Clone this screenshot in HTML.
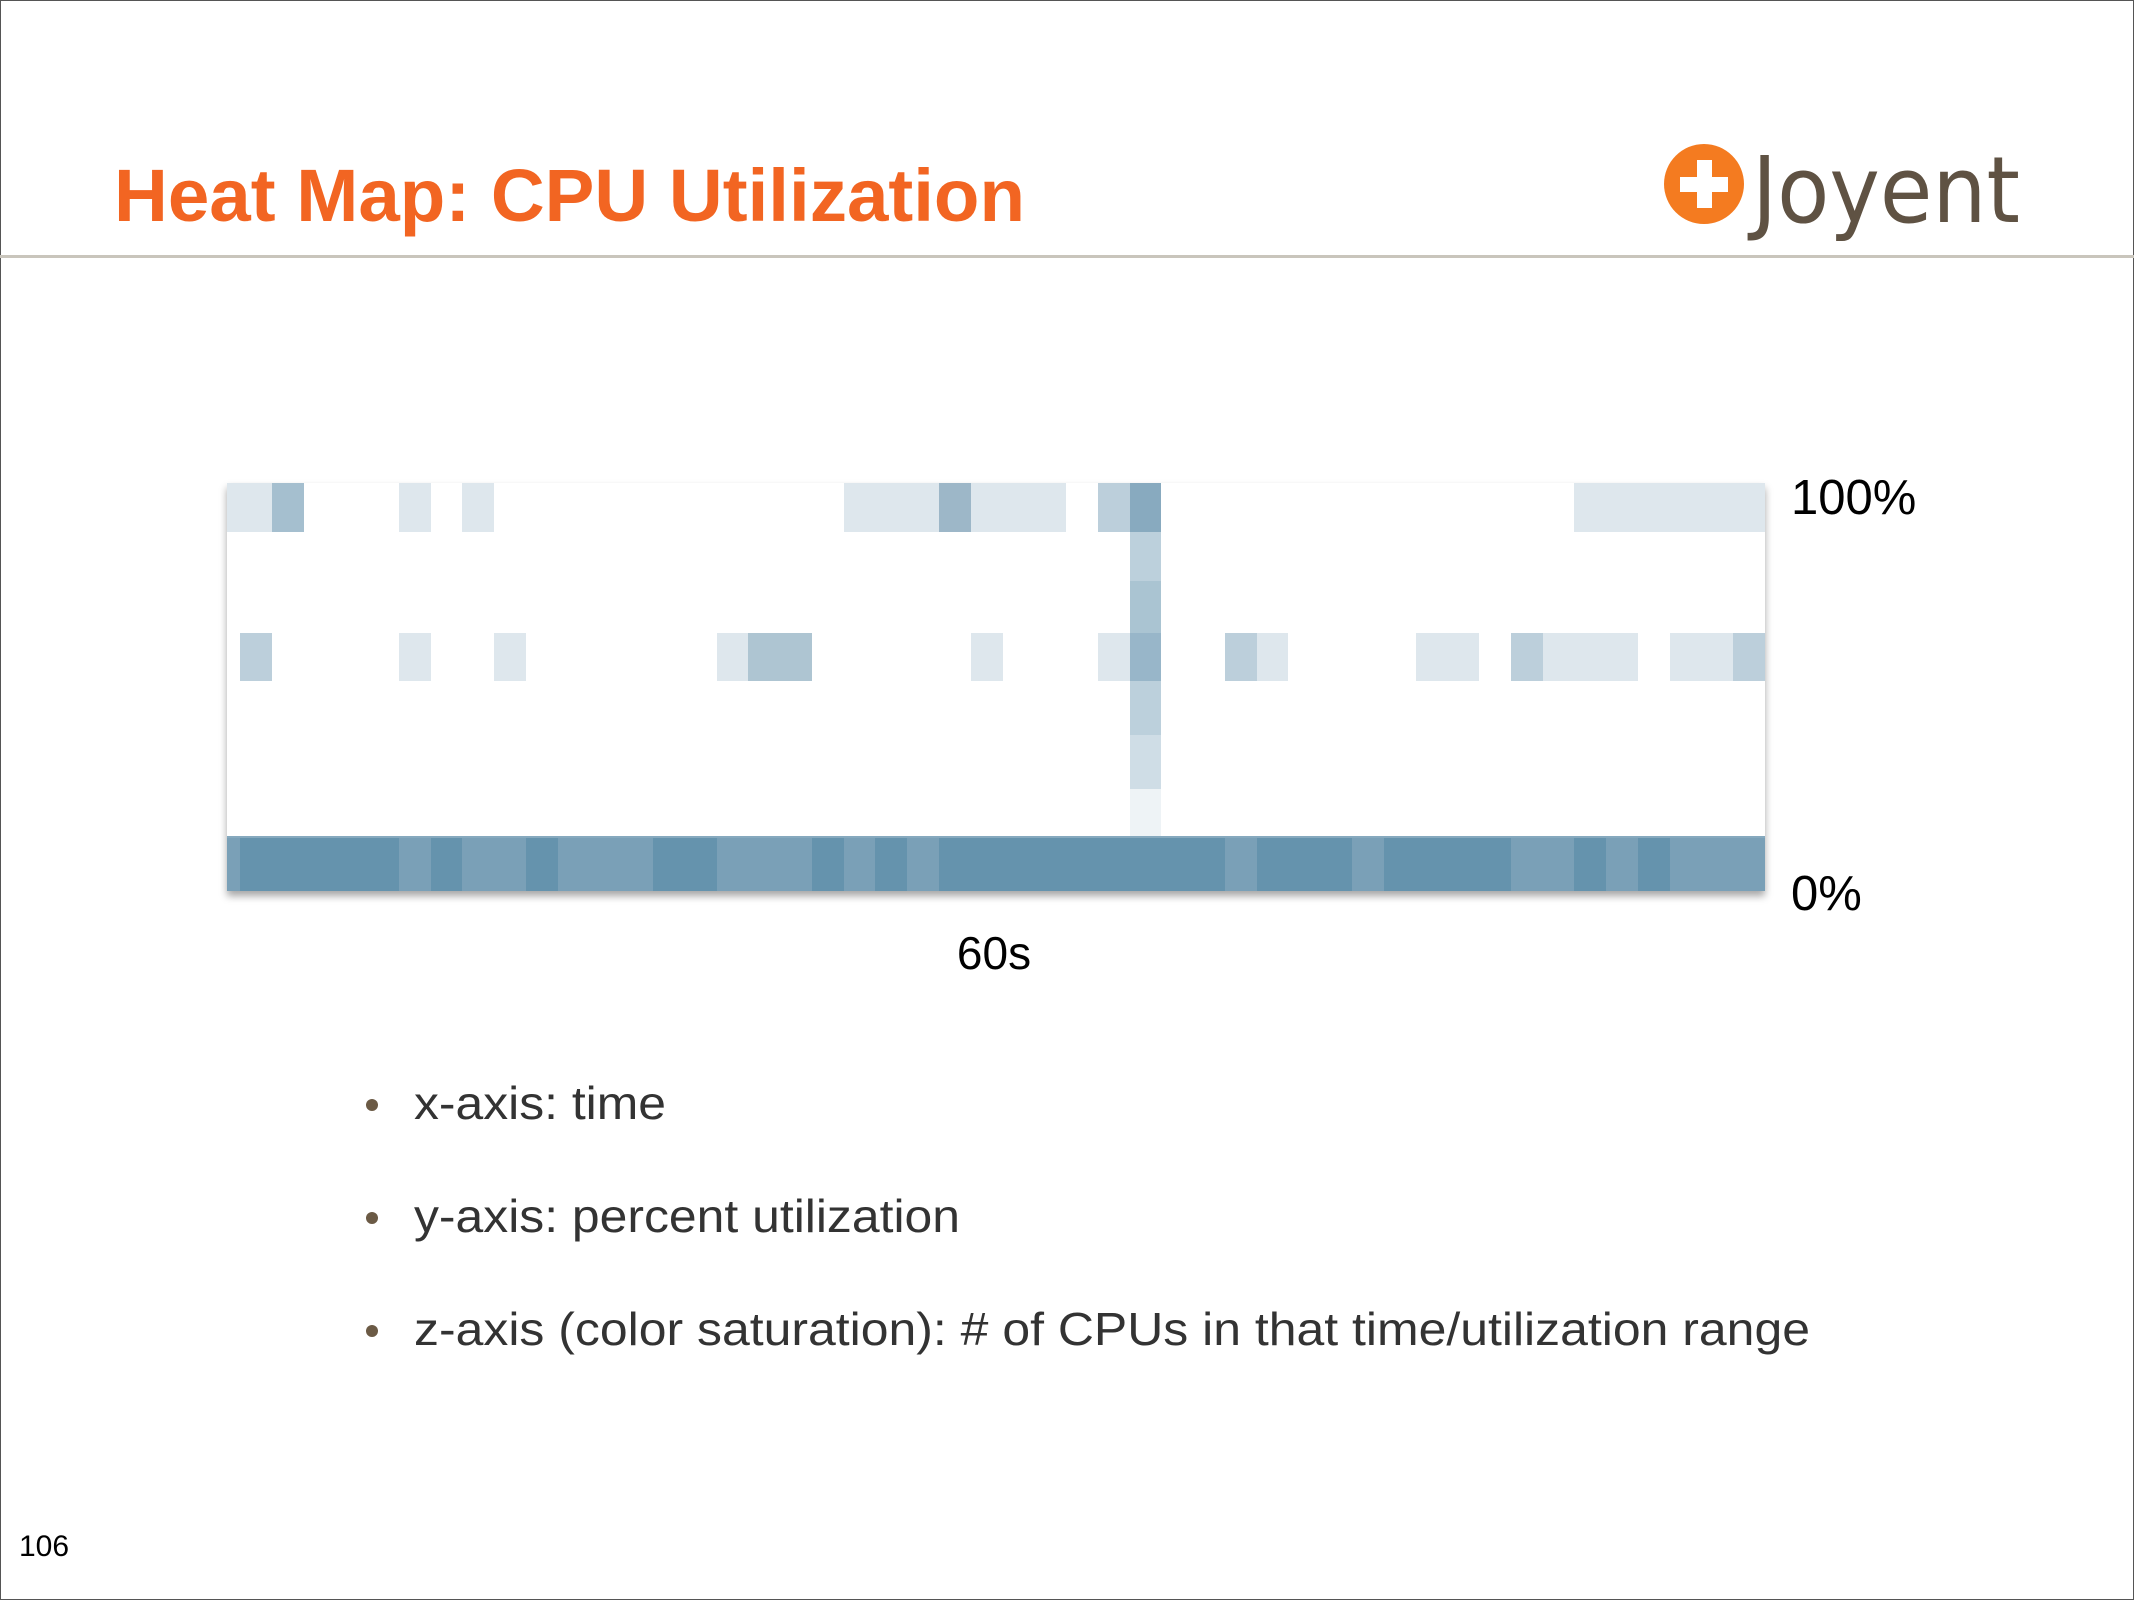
<!DOCTYPE html>
<html><head><meta charset="utf-8"><style>
html,body{margin:0;padding:0;background:#fff}
svg{display:block}
</style></head><body>
<svg width="2134" height="1600" viewBox="0 0 2134 1600" xmlns="http://www.w3.org/2000/svg" font-family="Liberation Sans, Arial, sans-serif">
<defs>
<filter id="sh" x="-5%" y="-5%" width="110%" height="120%"><feDropShadow dx="0" dy="5" stdDeviation="4" flood-color="#000" flood-opacity="0.35"/></filter>
</defs>
<rect x="0.5" y="0.5" width="2133" height="1599" fill="#fff" stroke="#555" stroke-width="1"/>
<text x="114" y="221" font-size="74" font-weight="bold" fill="#f26522" textLength="911" lengthAdjust="spacingAndGlyphs">Heat Map: CPU Utilization</text>
<rect x="0" y="255" width="2134" height="3" fill="#c9c5bc"/>
<!-- logo -->
<circle cx="1704" cy="184" r="40" fill="#f47b20"/>
<rect x="1697" y="160" width="15" height="48" fill="#fff"/>
<rect x="1680" y="177" width="48" height="15" fill="#fff"/>
<text x="1752" y="222" font-size="92" fill="#5f5243" font-family="DejaVu Sans, sans-serif" textLength="268" lengthAdjust="spacingAndGlyphs">Joyent</text>

<!-- heatmap -->
<g>
<rect x="227" y="483" width="1538" height="408" fill="#fff" filter="url(#sh)"/>
<rect x="227" y="483" width="45" height="49" fill="#dee7ed"/>
<rect x="272" y="483" width="32" height="49" fill="#a5bfcf"/>
<rect x="399" y="483" width="32" height="49" fill="#dee7ed"/>
<rect x="462" y="483" width="32" height="49" fill="#dee7ed"/>
<rect x="844" y="483" width="95" height="49" fill="#dee7ed"/>
<rect x="939" y="483" width="32" height="49" fill="#9db7c8"/>
<rect x="971" y="483" width="95" height="49" fill="#dee7ed"/>
<rect x="1098" y="483" width="32" height="49" fill="#bccfdb"/>
<rect x="1130" y="483" width="31" height="49" fill="#88aabf"/>
<rect x="1574" y="483" width="191" height="49" fill="#dee7ed"/>
<rect x="1130" y="532" width="31" height="49" fill="#bcd0dc"/>
<rect x="1130" y="581" width="31" height="52" fill="#aac4d2"/>
<rect x="1130" y="633" width="31" height="48" fill="#98b6c9"/>
<rect x="1130" y="681" width="31" height="54" fill="#bcd0dc"/>
<rect x="1130" y="735" width="31" height="54" fill="#cfdde6"/>
<rect x="1130" y="789" width="31" height="47" fill="#eef3f6"/>
<rect x="240" y="633" width="32" height="48" fill="#bccfdb"/>
<rect x="399" y="633" width="32" height="48" fill="#dee7ed"/>
<rect x="494" y="633" width="32" height="48" fill="#dee7ed"/>
<rect x="717" y="633" width="31" height="48" fill="#dee7ed"/>
<rect x="748" y="633" width="64" height="48" fill="#aec5d2"/>
<rect x="971" y="633" width="32" height="48" fill="#dee7ed"/>
<rect x="1098" y="633" width="32" height="48" fill="#dee7ed"/>
<rect x="1225" y="633" width="32" height="48" fill="#bccfdb"/>
<rect x="1257" y="633" width="31" height="48" fill="#dee7ed"/>
<rect x="1416" y="633" width="63" height="48" fill="#dee7ed"/>
<rect x="1511" y="633" width="32" height="48" fill="#bccfdb"/>
<rect x="1543" y="633" width="95" height="48" fill="#dee7ed"/>
<rect x="1670" y="633" width="63" height="48" fill="#dee7ed"/>
<rect x="1733" y="633" width="32" height="48" fill="#bccfdb"/>
<rect x="227" y="836" width="1538" height="55" fill="#6593ad"/>
<g fill="#7aa0b7">
<rect x="227" y="836" width="13" height="55"/>
<rect x="399" y="836" width="32" height="55"/>
<rect x="462" y="836" width="64" height="55"/>
<rect x="558" y="836" width="95" height="55"/>
<rect x="717" y="836" width="95" height="55"/>
<rect x="844" y="836" width="31" height="55"/>
<rect x="907" y="836" width="32" height="55"/>
<rect x="1225" y="836" width="32" height="55"/>
<rect x="1352" y="836" width="32" height="55"/>
<rect x="1511" y="836" width="63" height="55"/>
<rect x="1606" y="836" width="32" height="55"/>
<rect x="1670" y="836" width="95" height="55"/>
</g>
<rect x="227" y="836" width="1538" height="2" fill="#86a9be"/>
</g>

<text x="1791" y="514" font-size="49" fill="#000">100%</text>
<text x="1791" y="910" font-size="49" fill="#000">0%</text>
<text x="994" y="969" font-size="46" fill="#000" text-anchor="middle">60s</text>

<g fill="#6b5a45">
<circle cx="372" cy="1105" r="6"/>
<circle cx="372" cy="1218" r="6"/>
<circle cx="372" cy="1331" r="6"/>
</g>
<g font-size="46" fill="#333">
<text x="414" y="1119" textLength="252" lengthAdjust="spacingAndGlyphs">x-axis: time</text>
<text x="414" y="1232" textLength="546" lengthAdjust="spacingAndGlyphs">y-axis: percent utilization</text>
<text x="414" y="1345" textLength="1396" lengthAdjust="spacingAndGlyphs">z-axis (color saturation): # of CPUs in that time/utilization range</text>
</g>
<text x="19" y="1556" font-size="30" fill="#000">106</text>
</svg>
</body></html>
